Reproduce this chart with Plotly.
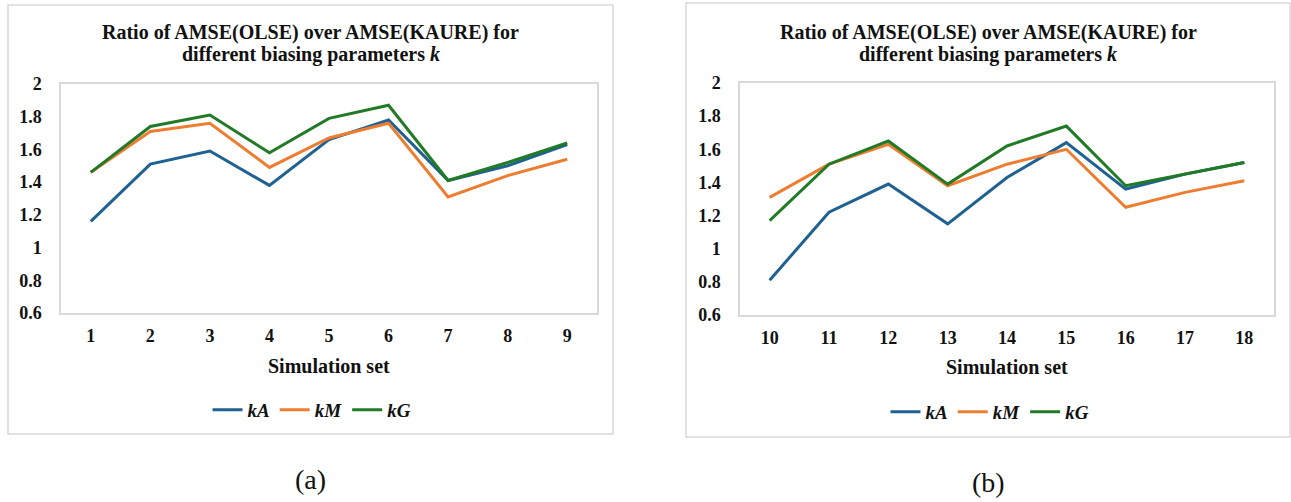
import plotly.graph_objects as go

W, H = 1291, 502

sets_a = ["1", "2", "3", "4", "5", "6", "7", "8", "9"]
sets_b = ["10", "11", "12", "13", "14", "15", "16", "17", "18"]

kA_a = [1.16, 1.51, 1.59, 1.38, 1.66, 1.78, 1.41, 1.50, 1.63]
kM_a = [1.46, 1.71, 1.76, 1.49, 1.67, 1.76, 1.31, 1.44, 1.54]
kG_a = [1.46, 1.74, 1.81, 1.58, 1.79, 1.87, 1.41, 1.52, 1.64]

kA_b = [0.81, 1.22, 1.39, 1.15, 1.43, 1.64, 1.36, 1.45, 1.52]
kM_b = [1.31, 1.51, 1.63, 1.38, 1.51, 1.60, 1.25, 1.34, 1.41]
kG_b = [1.17, 1.51, 1.65, 1.39, 1.62, 1.74, 1.38, 1.45, 1.52]

series_names = ["kA", "kM", "kG"]
colors = ["#1f6190", "#ed7d31", "#217a26"]

title_l1 = "Ratio of AMSE(OLSE) over AMSE(KAURE) for"
title_l2 = "different biasing parameters <i>k</i>"
xlabel = "Simulation set"
sub_labels = ["(a)", "(b)"]

FONT = "Liberation Serif, Times New Roman, serif"
GRID = "#d9d9d9"
TXT = "#111111"

def px_x(x):
    return x / W

def px_y(y):
    return 1 - y / H

fig = go.Figure()

panels = [
    dict(sets=sets_a, data=[kA_a, kM_a, kG_a], xa="x", ya="y", legend="legend"),
    dict(sets=sets_b, data=[kA_b, kM_b, kG_b], xa="x2", ya="y2", legend="legend2"),
]

for p in panels:
    for name, vals, col in zip(series_names, p["data"], colors):
        fig.add_trace(go.Scatter(
            x=p["sets"], y=vals, mode="lines", name="<b><i>%s</i></b>" % name,
            line=dict(color=col, width=3), xaxis=p["xa"], yaxis=p["ya"],
            legend=p["legend"], hoverinfo="x+y+name",
        ))

axis_common = dict(showgrid=False, zeroline=False, showline=True, mirror=True,
                   linecolor=GRID, linewidth=1.5, ticks="", automargin=False,
                   tickfont=dict(family=FONT, size=18, color=TXT, weight="bold"))

yaxis_common = dict(axis_common, range=[0.6, 2.0], dtick=0.2, tick0=0.6,
                    ticklabelstandoff=14)
xaxis_common = dict(axis_common, type="category", range=[-0.5, 8.5],
                    ticklabelstandoff=6)

legend_common = dict(orientation="h", xanchor="center", yanchor="middle",
                     font=dict(family=FONT, size=19, color=TXT),
                     itemwidth=30, bgcolor="rgba(0,0,0,0)")

fig.update_layout(
    template="none",
    width=W, height=H,
    margin=dict(l=0, r=0, t=0, b=0, autoexpand=False),
    paper_bgcolor="white", plot_bgcolor="white",
    xaxis=dict(xaxis_common, domain=[px_x(61), px_x(597)], anchor="y"),
    yaxis=dict(yaxis_common, domain=[px_y(313), px_y(84)], anchor="x"),
    xaxis2=dict(xaxis_common, domain=[px_x(740), px_x(1274)], anchor="y2"),
    yaxis2=dict(yaxis_common, domain=[px_y(315), px_y(83)], anchor="x2"),
    legend=dict(legend_common, x=px_x(312), y=px_y(410)),
    legend2=dict(legend_common, x=px_x(990), y=px_y(412)),
    showlegend=True,
)

# outer chart boxes
fig.add_shape(type="rect", xref="paper", yref="paper",
              x0=px_x(8), x1=px_x(613), y0=px_y(434), y1=px_y(5),
              line=dict(color=GRID, width=1.5), layer="below")
fig.add_shape(type="rect", xref="paper", yref="paper",
              x0=px_x(686), x1=px_x(1290), y0=px_y(437), y1=px_y(3),
              line=dict(color=GRID, width=1.5), layer="below")

centers = [(310.5, 33, 54, 366, 479, 329), (988, 33, 54, 367, 482, 1007)]
for (cx, t1, t2, xl, sl, xc), lab in zip(centers, sub_labels):
    fig.add_annotation(x=px_x(cx), y=px_y(t1), xref="paper", yref="paper",
                       text="<b>%s</b>" % title_l1, showarrow=False,
                       xanchor="center", yanchor="middle",
                       font=dict(family=FONT, size=20, color=TXT))
    fig.add_annotation(x=px_x(cx), y=px_y(t2), xref="paper", yref="paper",
                       text="<b>%s</b>" % title_l2, showarrow=False,
                       xanchor="center", yanchor="middle",
                       font=dict(family=FONT, size=20, color=TXT))
    fig.add_annotation(x=px_x(xc), y=px_y(xl), xref="paper", yref="paper",
                       text="<b>%s</b>" % xlabel, showarrow=False,
                       xanchor="center", yanchor="middle",
                       font=dict(family=FONT, size=20, color=TXT))
    fig.add_annotation(x=px_x(cx), y=px_y(sl), xref="paper", yref="paper",
                       text=lab, showarrow=False,
                       xanchor="center", yanchor="middle",
                       font=dict(family=FONT, size=28, color=TXT))

fig.write_html("out.html", config={"displayModeBar": False},
               post_script="document.body.style.margin='0';")
